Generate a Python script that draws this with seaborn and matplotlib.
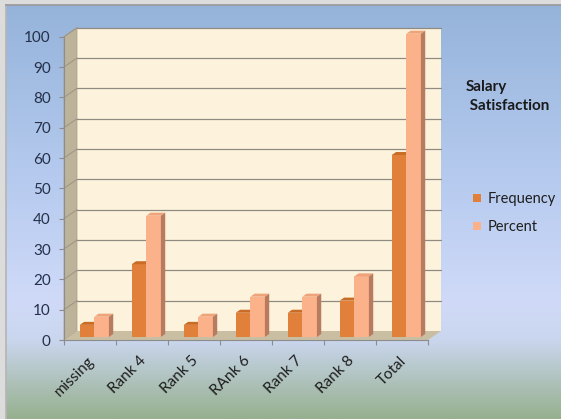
import numpy as np
import pandas as pd
import matplotlib
matplotlib.use("Agg")
import matplotlib.pyplot as plt
import matplotlib.transforms as mtransforms
import seaborn as sns
from matplotlib.patches import Polygon, Rectangle
from matplotlib.colors import LinearSegmentedColormap
from matplotlib.lines import Line2D

# ---- data -------------------------------------------------------------
categories = ["missing", "Rank 4", "Rank 5", "RAnk 6", "Rank 7", "Rank 8", "Total"]
frequency = [4, 24, 4, 8, 8, 12, 60]
percent = [6.7, 40, 6.7, 13.3, 13.3, 20, 100]
series_names = ["Frequency", "Percent"]
y_ticks = [0, 10, 20, 30, 40, 50, 60, 70, 80, 90, 100]
title_lines = ["Salary", " Satisfaction"]

df = pd.DataFrame({
    "category": categories * 2,
    "series": [series_names[0]] * len(categories) + [series_names[1]] * len(categories),
    "value": frequency + percent,
})

# ---- style ------------------------------------------------------------
sns.set_theme(style="white")
plt.rcParams["font.family"] = ["Lato", "DejaVu Sans"]

front = {"Frequency": "#e0803a", "Percent": "#fbb28a"}
top_c = {"Frequency": "#c96c26", "Percent": "#eea37a"}
side_c = {"Frequency": "#a85a22", "Percent": "#b97b60"}

W, H = 561, 419
fig = plt.figure(figsize=(W / 100, H / 100), dpi=100)
fig.patch.set_facecolor("#dcdcdc")

# chart-area gradient (blue at the top fading to green at the bottom)
bg = fig.add_axes([6 / W, 0, (W - 6) / W, (H - 5) / H])
cmap = LinearSegmentedColormap.from_list("chartbg", [
    (0.00, (149 / 255, 179 / 255, 218 / 255)),
    (0.45, (184 / 255, 204 / 255, 240 / 255)),
    (0.72, (208 / 255, 218 / 255, 248 / 255)),
    (0.81, (202 / 255, 214 / 255, 238 / 255)),
    (1.00, (150 / 255, 176 / 255, 142 / 255)),
])
bg.imshow(np.linspace(0, 1, 256).reshape(-1, 1), aspect="auto", cmap=cmap,
          extent=[0, 1, 0, 1], origin="upper")
bg.set_xticks([]); bg.set_yticks([])
for s in bg.spines.values():
    s.set_visible(False)
bg.spines["top"].set_visible(True); bg.spines["top"].set_color("#9a9a9a")
bg.spines["left"].set_visible(True); bg.spines["left"].set_color("#b5b5b5")

# ---- main plot (front plane of the 3-D box) ----------------------------
ax = fig.add_axes([64 / W, (H - 340) / H, 364 / W, 303.3 / H])
sns.barplot(data=df, x="category", y="value", hue="series", order=categories,
            hue_order=series_names, palette=[front[s] for s in series_names],
            width=0.56, saturation=1, legend=False, ax=ax, linewidth=0)
bars = list(ax.patches)

n = len(categories)
ax.set_xlim(-0.5, n - 0.5)
ax.set_ylim(0, 100)
ax.patch.set_alpha(0)

# depth of the box, in data units
DX, DY = 0.25, 2.97
bdx, bdy = DX / 3, DY / 3

# back wall, side wall and floor
ax.add_patch(Rectangle((-0.5 + DX, DY), n, 100, facecolor="#fdf2dc",
                       edgecolor="none", zorder=0.5, clip_on=False))
ax.add_patch(Polygon([(-0.5, 0), (-0.5 + DX, DY), (-0.5 + DX, 100 + DY), (-0.5, 100)],
                     closed=True, facecolor="#bdb29a", edgecolor="#a89e88",
                     lw=0.5, zorder=0.5, clip_on=False))
ax.add_patch(Polygon([(-0.5, 0), (n - 0.5, 0), (n - 0.5 + DX, DY), (-0.5 + DX, DY)],
                     closed=True, facecolor="#c9bea2", edgecolor="none",
                     zorder=0.7, clip_on=False))
for v in y_ticks[1:]:
    ax.plot([-0.5 + DX, n - 0.5 + DX], [v + DY, v + DY], color="#8e8b80",
            lw=0.9, zorder=0.6, clip_on=False)
    ax.plot([-0.5, -0.5 + DX], [v, v + DY], color="#9d9582",
            lw=0.7, zorder=0.6, clip_on=False)

# give every bar a top and a right side face
for p in bars:
    x0, w, h = p.get_x(), p.get_width(), p.get_height()
    cx = x0 + w / 2
    idx = int(round(cx))
    name = series_names[0] if cx < idx else series_names[1]
    hi = series_names.index(name)
    z = 2 + idx * 0.1 + hi * 0.04
    x0 += bdx
    y0 = bdy
    p.set_x(x0); p.set_y(y0)
    p.set_zorder(z); p.set_clip_on(False); p.set_linewidth(0)
    ax.add_patch(Polygon([(x0, y0 + h), (x0 + w, y0 + h),
                          (x0 + w + bdx, y0 + h + bdy), (x0 + bdx, y0 + h + bdy)],
                         closed=True, facecolor=top_c[name], edgecolor="none",
                         zorder=z + 0.01, clip_on=False))
    ax.add_patch(Polygon([(x0 + w, y0), (x0 + w + bdx, y0 + bdy),
                          (x0 + w + bdx, y0 + h + bdy), (x0 + w, y0 + h)],
                         closed=True, facecolor=side_c[name], edgecolor="none",
                         zorder=z + 0.01, clip_on=False))

# axes, ticks and labels
for s in ["top", "right"]:
    ax.spines[s].set_visible(False)
for s in ["left", "bottom"]:
    ax.spines[s].set_color("#8c8c8c")
    ax.spines[s].set_linewidth(0.8)
    ax.spines[s].set_zorder(1)
ax.set_xlabel("")
ax.set_ylabel("")
ax.set_yticks(y_ticks)
ax.tick_params(axis="y", length=3.6, width=0.8, color="#8c8c8c", pad=6,
               labelsize=11, labelcolor="#25304a", left=True)
ax.set_xticks(np.arange(-0.5, n, 1))
ax.set_xticklabels([])
ax.set_xticks(np.arange(n), categories, minor=True)
ax.tick_params(axis="x", which="major", length=3.6, width=0.8, color="#8c8c8c", bottom=True)
ax.tick_params(axis="x", which="minor", length=0, pad=10, labelsize=11, labelcolor="#1e1e1e")
shift = mtransforms.ScaledTranslation(7 / 100, 0, fig.dpi_scale_trans)
for lab in ax.get_xticklabels(minor=True):
    lab.set_rotation(45)
    lab.set_ha("right")
    lab.set_va("top")
    lab.set_transform(lab.get_transform() + shift)

# title and legend on the right
fig.text(466 / W, 1 - 87 / H, title_lines[0], fontsize=11, fontweight="bold",
         color="#1a1a1a", va="center", ha="left")
fig.text(466 / W, 1 - 106 / H, title_lines[1], fontsize=11, fontweight="bold",
         color="#1a1a1a", va="center", ha="left")
handles = [Line2D([], [], marker="s", linestyle="none", markersize=6,
                  markerfacecolor=front[s], markeredgewidth=0) for s in series_names]
fig.legend(handles, series_names, loc="upper left",
           bbox_to_anchor=(464 / W, 1 - 185 / H), frameon=False, fontsize=10.5,
           handletextpad=0.3, labelspacing=0.95, borderpad=0, handlelength=0.8,
           labelcolor="#1e1e1e")

fig.savefig("out.png", dpi=100)
